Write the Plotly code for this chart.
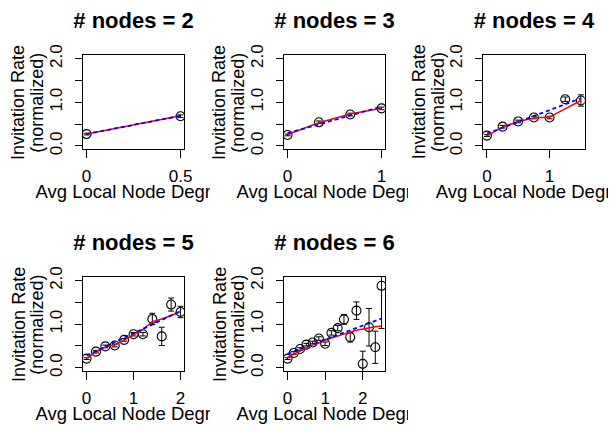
import plotly.graph_objects as go

W, H = 616, 432

# ---------------- data ----------------
titles = ["# nodes = 2", "# nodes = 3", "# nodes = 4", "# nodes = 5", "# nodes = 6"]
x_label = "Avg Local Node Degree"
y_label_1 = "Invitation Rate"
y_label_2 = "(normalized)"

y_tickvals = [0, 0.5, 1.0, 1.5, 2.0]
y_ticktext = ["0.0", "", "1.0", "", "2.0"]

# nodes = 2
deg_n2 = [0, 0.5]
rate_n2 = [0.27, 0.68]
err_n2 = [0.02, 0.03]
smooth_n2 = [0.27, 0.69]
fit_n2 = [0.27, 0.69]

# nodes = 3
deg_n3 = [0, 0.333, 0.667, 1.0]
rate_n3 = [0.25, 0.54, 0.72, 0.86]
err_n3 = [0.02, 0.03, 0.03, 0.03]
smooth_n3 = [0.26, 0.53, 0.73, 0.86]
fit_n3 = [0.29, 0.90]

# nodes = 4
deg_n4 = [0, 0.25, 0.5, 0.75, 1.0, 1.25, 1.5]
rate_n4 = [0.235, 0.44, 0.56, 0.65, 0.65, 1.07, 1.04]
err_n4 = [0.02, 0.03, 0.03, 0.03, 0.03, 0.05, 0.13]
smooth_n4 = [0.23, 0.43, 0.56, 0.64, 0.66, 0.85, 1.04]
fit_n4 = [0.28, 1.09]

# nodes = 5
deg_n5 = [0, 0.2, 0.4, 0.6, 0.8, 1.0, 1.2, 1.4, 1.6, 1.8, 2.0]
rate_n5 = [0.21, 0.37, 0.49, 0.51, 0.64, 0.77, 0.77, 1.12, 0.72, 1.45, 1.28]
err_n5 = [0.02, 0.03, 0.03, 0.03, 0.03, 0.04, 0.04, 0.13, 0.21, 0.15, 0.13]
smooth_n5 = [0.22, 0.36, 0.47, 0.53, 0.63, 0.75, 0.88, 1.06, 1.12, 1.20, 1.29]
fit_n5 = [0.28, 1.30]

# nodes = 6
deg_n6 = [0, 0.167, 0.333, 0.5, 0.667, 0.833, 1.0, 1.167, 1.333, 1.5,
          1.667, 1.833, 2.0, 2.167, 2.333, 2.5]
rate_n6 = [0.21, 0.34, 0.43, 0.53, 0.58, 0.67, 0.55, 0.80, 0.91, 1.11,
           0.70, 1.31, 0.09, 0.93, 0.47, 1.88]
err_n6 = [0.02, 0.03, 0.03, 0.03, 0.03, 0.04, 0.04, 0.05, 0.06, 0.11,
          0.11, 0.20, 0.29, 0.43, 0.37, 0.98]
smooth_n6 = [0.24, 0.32, 0.39, 0.46, 0.52, 0.58, 0.63, 0.68, 0.73, 0.78,
             0.82, 0.86, 0.89, 0.92, 0.94, 0.96]
fit_n6 = [0.32, 1.13]

x_tickvals = [[0, 0.5], [0, 1], [0, 1], [0, 1, 2], [0, 1, 2]]
x_ticktext = [["0", "0.5"], ["0", "1"], ["0", "1"], ["0", "1", "2"], ["0", "1", "2"]]
x_ranges = [[-0.02, 0.52], [-0.04, 1.04], [-0.06, 1.56], [-0.08, 2.08], [-0.1, 2.6]]
y_range = [-0.08, 2.08]

panels = [
    (deg_n2, rate_n2, err_n2, smooth_n2, fit_n2),
    (deg_n3, rate_n3, err_n3, smooth_n3, fit_n3),
    (deg_n4, rate_n4, err_n4, smooth_n4, fit_n4),
    (deg_n5, rate_n5, err_n5, smooth_n5, fit_n5),
    (deg_n6, rate_n6, err_n6, smooth_n6, fit_n6),
]

# ---------------- layout geometry (pixels) ----------------
col_left = [83, 287, 489.3]
plot_w = 103
row_top = [46, 277]
plot_h = 98
clip_edges = [(0, 212), (213, 413), (414, 616)]  # x-label clipping regions per column

FONT = "Liberation Sans, Arial, Helvetica, sans-serif"

fig = go.Figure()
layout = dict(
    width=W, height=H, margin=dict(l=0, r=0, t=0, b=0),
    paper_bgcolor="white", plot_bgcolor="rgba(0,0,0,0)",
    showlegend=False, font=dict(family=FONT, color="black"),
)
annotations = []

# hidden full-page helper axes for the panel titles (pixel coordinates)
layout["xaxis11"] = dict(domain=[0, 1], range=[0, W], anchor="y11", visible=False, fixedrange=True)
layout["yaxis11"] = dict(domain=[0, 1], range=[0, H], anchor="x11", visible=False, fixedrange=True)

title_x, title_y = [], []

for i, (xs, ys, es, sm, fit) in enumerate(panels):
    r, c = divmod(i, 3)
    k = i + 1
    xl, yt = col_left[c], row_top[r]
    xdom = [xl / W, (xl + plot_w) / W]
    ydom = [1 - (yt + plot_h) / H, 1 - yt / H]
    xa = "x" if k == 1 else f"x{k}"
    ya = "y" if k == 1 else f"y{k}"

    fig.add_trace(go.Scatter(
        x=xs, y=ys, mode="markers", xaxis=xa, yaxis=ya,
        marker=dict(symbol="circle-open", size=9, color="black", line=dict(width=1.1, color="black")),
        error_y=dict(type="data", array=es, visible=True, color="black", thickness=1, width=3),
        cliponaxis=True,
    ))
    fig.add_trace(go.Scatter(
        x=xs, y=sm, mode="lines", xaxis=xa, yaxis=ya,
        line=dict(color="red", width=1.5),
    ))
    fig.add_trace(go.Scatter(
        x=[xs[0], xs[-1]], y=fit, mode="lines", xaxis=xa, yaxis=ya,
        line=dict(color="blue", width=1.8, dash="4px,3px"),
    ))

    axcommon = dict(
        showline=True, mirror=True, linecolor="black", linewidth=1,
        ticks="outside", tickwidth=1, tickcolor="black",
        showgrid=False, zeroline=False, tickfont=dict(size=17, family=FONT, color="black"),
        fixedrange=True,
    )
    layout["xaxis" if k == 1 else f"xaxis{k}"] = dict(
        domain=xdom, range=x_ranges[i], anchor=ya, ticklen=8,
        tickmode="array", tickvals=x_tickvals[i], ticktext=x_ticktext[i],
        ticklabelstandoff=3, **axcommon)
    layout["yaxis" if k == 1 else f"yaxis{k}"] = dict(
        domain=ydom, range=y_range, anchor=xa, ticklen=7,
        tickmode="array", tickvals=y_tickvals, ticktext=y_ticktext,
        tickangle=-90, ticklabelstandoff=6, **axcommon)

    # title position (pixel coords on the helper axes)
    title_x.append(xl + plot_w / 2)
    title_y.append(H - (yt - 34))

    # y labels
    cy = 1 - (yt + plot_h / 2) / H
    annotations.append(dict(
        text=y_label_1, x=(xl - 65) / W, y=cy, xref="paper", yref="paper",
        xanchor="center", yanchor="middle", textangle=-90, showarrow=False,
        font=dict(size=18, family=FONT, color="black")))
    annotations.append(dict(
        text=y_label_2, x=(xl - 46) / W, y=cy, xref="paper", yref="paper",
        xanchor="center", yanchor="middle", textangle=-90, showarrow=False,
        font=dict(size=18, family=FONT, color="black")))

    # x label on a hidden helper axis so that it is clipped like the reference
    kk = k + 5
    lx0, lx1 = clip_edges[c]
    ly0 = yt + plot_h + 30
    ly1 = min(yt + plot_h + 60, H)
    fig.add_trace(go.Scatter(
        x=[xl + plot_w / 2], y=[H - (yt + plot_h + 46)], mode="text", text=[x_label],
        textposition="middle center", cliponaxis=True,
        textfont=dict(size=18.5, family=FONT, color="black"),
        xaxis=f"x{kk}", yaxis=f"y{kk}", hoverinfo="skip",
    ))
    layout[f"xaxis{kk}"] = dict(domain=[lx0 / W, lx1 / W], range=[lx0, lx1],
                                anchor=f"y{kk}", visible=False, fixedrange=True)
    layout[f"yaxis{kk}"] = dict(domain=[1 - ly1 / H, 1 - ly0 / H], range=[H - ly1, H - ly0],
                                anchor=f"x{kk}", visible=False, fixedrange=True)

fig.add_trace(go.Scatter(
    x=title_x, y=title_y, mode="text", text=titles, textposition="middle center",
    cliponaxis=False, xaxis="x11", yaxis="y11", hoverinfo="skip",
    textfont=dict(size=22, family=FONT, color="black", weight="bold"),
))

layout["annotations"] = annotations
fig.update_layout(**layout)
fig.write_html("out.html")
